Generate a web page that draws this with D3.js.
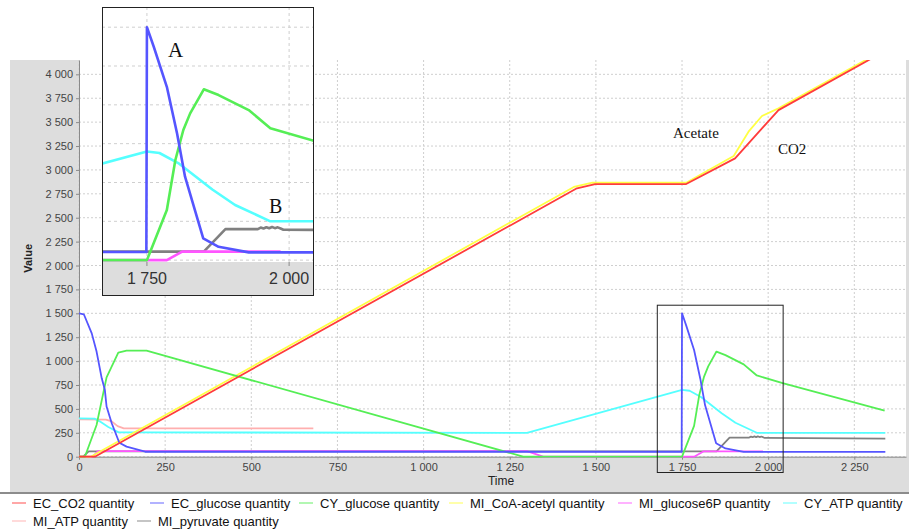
<!DOCTYPE html>
<html>
<head>
<meta charset="utf-8">
<script src="https://cdn.jsdelivr.net/npm/d3@7"></script>
<style>
body { margin: 0; background: #fff; }
svg { display: block; font-family: "Liberation Sans", Arial, sans-serif; }
</style>
</head>
<body>
<script>
// series, [time, value]
var seriesNames = ["EC_CO2 quantity", "EC_glucose quantity", "CY_glucose quantity", "MI_CoA-acetyl quantity",
                   "MI_glucose6P quantity", "CY_ATP quantity", "MI_ATP quantity", "MI_pyruvate quantity"];
var seriesColors = ["#ff3c3c", "#5555ff", "#55ee55", "#ffff44", "#ff55ff", "#55ffff", "#ffafaf", "#808080"];

var ecCO2 = [[0,0],[46,0],[1445,2808],[1498,2852],[1762,2852],[1904,3121],[2030,3626],[2340,4246]];
var ecGlucose = [[0,1500],[14,1490],[37,1290],[51,1100],[66,820],[75,700],[80,525],[95,350],[117,146],[138,105],
                 [192,52],[1749,52],[1750,1500],[1762,1374],[1785,1116],[1803,816],[1817,537],[1849,140],[1876,86],
                 [1929,50],[2340,50]];
var cyGlucose = [[0,0],[17,0],[51,332],[80,830],[114,1088],[138,1109],[196,1109],[1289,0],[1750,0],[1785,323],
                 [1800,645],[1814,838],[1826,945],[1850,1100],[1876,1063],[1929,966],[1967,850],[2042,770],[2338,481]];
var miCoA = [[0,0],[34,0],[1436,2822],[1490,2866],[1762,2866],[1900,3145],[1943,3400],[1982,3564],[2030,3644],[2340,4264]];
var miG6P = [[0,0],[40,0],[55,58],[1300,58],[1347,0],[1785,0],[1812,55],[1985,55]];
var cyATP = [[0,400],[45,398],[60,370],[85,310],[115,255],[1300,250],[1750,700],[1772,690],[1805,625],[1865,455],
             [1905,355],[1967,250],[2340,250]];
var miATP = [[0,390],[78,388],[95,370],[112,320],[130,297],[680,297]];
var miPyruvate = [[0,0],[12,0],[28,55],[1850,55],[1888,200],[1945,200],[1950,210],[1955,204],[1960,212],[1965,205],
                  [1970,213],[1975,206],[1980,211],[1985,204],[1990,196],[2340,190]];

var xTickValues = [0,250,500,750,1000,1250,1500,1750,2000,2250];
var yTickValues = [0,250,500,750,1000,1250,1500,1750,2000,2250,2500,2750,3000,3250,3500,3750,4000];
var insetXTicks = [1750, 2000];
var insetYTicks = [0,250,500,750,1000,1250,1500];

var allSeries = [ecCO2, ecGlucose, cyGlucose, miCoA, miG6P, cyATP, miATP, miPyruvate];

var width = 909, height = 531;
var pLeft = 79, pRight = 906, pTop = 60, pBottom = 456.7;

var fmt = d3.formatLocale({decimal: ",", thousands: " ", grouping: [3], currency: ["", ""]}).format(",d");

var svg = d3.select("body").append("svg")
    .attr("width", width)
    .attr("height", height);

// gray chart panel
svg.append("rect")
    .attr("x", 10).attr("y", pTop)
    .attr("width", width - 10).attr("height", 492 - pTop)
    .attr("fill", "#dddddd");
svg.append("line")
    .attr("x1", 0).attr("x2", width).attr("y1", 493).attr("y2", 493)
    .attr("stroke", "#8c8c8c").attr("stroke-width", 2);

var x = d3.scaleLinear().domain([0, 2400]).range([pLeft, pRight]);
var y = d3.scaleLinear().domain([0, 4150]).range([pBottom, pTop]);

svg.append("rect")
    .attr("x", pLeft).attr("y", pTop)
    .attr("width", pRight - pLeft).attr("height", pBottom - pTop)
    .attr("fill", "#fff");

// grid
svg.append("g").selectAll("line").data(xTickValues).enter().append("line")
    .attr("x1", d => x(d)).attr("x2", d => x(d))
    .attr("y1", pTop).attr("y2", pBottom)
    .attr("stroke", "#cfcfcf").attr("stroke-dasharray", "2,2");
svg.append("g").selectAll("line").data(yTickValues).enter().append("line")
    .attr("x1", pLeft).attr("x2", pRight)
    .attr("y1", d => y(d)).attr("y2", d => y(d))
    .attr("stroke", "#cfcfcf").attr("stroke-dasharray", "2,2");

// axes
var xAxis = svg.append("g")
    .attr("transform", "translate(0," + pBottom + ")")
    .call(d3.axisBottom(x).tickValues(xTickValues).tickFormat(fmt).tickSize(3).tickSizeOuter(0));
var yAxis = svg.append("g")
    .attr("transform", "translate(" + pLeft + ",0)")
    .call(d3.axisLeft(y).tickValues(yTickValues).tickFormat(fmt).tickSize(3).tickSizeOuter(0));
[xAxis, yAxis].forEach(function(a) {
    a.select(".domain").attr("stroke", "#8a8a8a");
    a.selectAll(".tick line").attr("stroke", "#8a8a8a");
    a.selectAll("text").attr("fill", "#444").attr("font-size", "11px")
        .attr("font-family", "Liberation Sans, Arial, sans-serif");
});
xAxis.selectAll("text").attr("y", 7);

svg.append("text")
    .attr("x", 501).attr("y", 485)
    .attr("text-anchor", "middle")
    .attr("font-size", "12px")
    .attr("fill", "#222")
    .text("Time");
svg.append("text")
    .attr("transform", "translate(32," + ((pTop + pBottom) / 2) + ") rotate(-90)")
    .attr("text-anchor", "middle")
    .attr("font-size", "11px")
    .attr("font-weight", "bold")
    .attr("fill", "#222")
    .text("Value");

// lines
svg.append("clipPath").attr("id", "mainClip")
    .append("rect").attr("x", pLeft).attr("y", pTop).attr("width", pRight - pLeft).attr("height", pBottom - pTop + 2);

var line = d3.line().x(d => x(d[0])).y(d => y(d[1]));
var drawOrder = d3.range(allSeries.length).reverse();

svg.append("g").attr("clip-path", "url(#mainClip)")
    .selectAll("path").data(drawOrder).enter().append("path")
    .attr("d", i => line(allSeries[i]))
    .attr("fill", "none")
    .attr("stroke", i => seriesColors[i])
    .attr("stroke-width", 1.8)
    .attr("stroke-linejoin", "round");

// inset (zoom of the boxed region)
var iLeft = 102, iRight = 313, iTop = 7, iBottom = 262, iBase = 295;
var ix = d3.scaleLinear().domain([1671, 2042]).range([iLeft, iRight]);
var iy = d3.scaleLinear().domain([-12, 1630]).range([iBottom, iTop]);

// box on the main chart marking the zoomed area
var boxTop = y(1590);
svg.append("rect")
    .attr("x", x(ix.domain()[0]) + 2.5).attr("y", boxTop + 0.5)
    .attr("width", x(ix.domain()[1]) - x(ix.domain()[0]) - 2)
    .attr("height", 472 - boxTop)
    .attr("fill", "none").attr("stroke", "#222");

var inset = svg.append("g");
inset.append("rect")
    .attr("x", iLeft).attr("y", iTop).attr("width", iRight - iLeft).attr("height", iBottom - iTop)
    .attr("fill", "#fff");
inset.append("rect")
    .attr("x", iLeft).attr("y", iBottom).attr("width", iRight - iLeft).attr("height", iBase - iBottom)
    .attr("fill", "#dddddd");
inset.selectAll(".ig").data(insetYTicks).enter().append("line")
    .attr("x1", iLeft).attr("x2", iRight)
    .attr("y1", d => iy(d)).attr("y2", d => iy(d))
    .attr("stroke", "#cfcfcf").attr("stroke-dasharray", "3,3");
inset.selectAll(".ixg").data(insetXTicks).enter().append("line")
    .attr("x1", d => ix(d)).attr("x2", d => ix(d))
    .attr("y1", iTop).attr("y2", iBottom)
    .attr("stroke", "#cfcfcf").attr("stroke-dasharray", "3,3");
inset.selectAll(".ixt").data(insetXTicks).enter().append("line")
    .attr("x1", d => ix(d)).attr("x2", d => ix(d))
    .attr("y1", iBottom).attr("y2", iBottom + 4)
    .attr("stroke", "#8a8a8a");
inset.selectAll(".ixl").data(insetXTicks).enter().append("text")
    .attr("x", d => ix(d)).attr("y", 284)
    .attr("text-anchor", "middle")
    .attr("font-size", "16px")
    .attr("fill", "#333")
    .text(d => fmt(d));

svg.append("clipPath").attr("id", "insetClip")
    .append("rect").attr("x", iLeft).attr("y", iTop).attr("width", iRight - iLeft).attr("height", iBottom - iTop);

var iline = d3.line().x(d => ix(d[0])).y(d => iy(d[1]));
inset.append("g").attr("clip-path", "url(#insetClip)")
    .selectAll("path").data(drawOrder).enter().append("path")
    .attr("d", i => iline(allSeries[i]))
    .attr("fill", "none")
    .attr("stroke", i => seriesColors[i])
    .attr("stroke-width", 2.6)
    .attr("stroke-linejoin", "round");

inset.append("rect")
    .attr("x", iLeft + 0.5).attr("y", iTop + 0.5)
    .attr("width", iRight - iLeft).attr("height", iBase - iTop)
    .attr("fill", "none").attr("stroke", "#222");

// annotations
var notes = [
    {text: "A", x: 168, y: 57, size: 21},
    {text: "B", x: 269, y: 213, size: 20},
    {text: "Acetate", x: 673, y: 138, size: 15},
    {text: "CO2", x: 778, y: 154, size: 15}
];
svg.selectAll(".note").data(notes).enter().append("text")
    .attr("x", d => d.x).attr("y", d => d.y)
    .attr("font-family", "Liberation Serif, Times New Roman, serif")
    .attr("font-size", d => d.size + "px")
    .attr("fill", "#111")
    .text(d => d.text);

// legend
var legendPos = [[12,503],[150,503],[299,503],[449,503],[618,503],[783,503],[12,521],[137,521]];
var legend = svg.append("g").selectAll("g").data(seriesNames).enter().append("g")
    .attr("transform", (d, i) => "translate(" + legendPos[i][0] + "," + legendPos[i][1] + ")");
legend.append("line")
    .attr("x1", 0).attr("x2", 14).attr("y1", 0).attr("y2", 0)
    .attr("stroke", (d, i) => seriesColors[i])
    .attr("stroke-width", 1.5)
    .attr("opacity", 0.6);
legend.append("text")
    .attr("x", 21).attr("y", 4.5)
    .attr("font-size", "13px")
    .attr("fill", "#111")
    .text(d => d);
</script>
</body>
</html>
